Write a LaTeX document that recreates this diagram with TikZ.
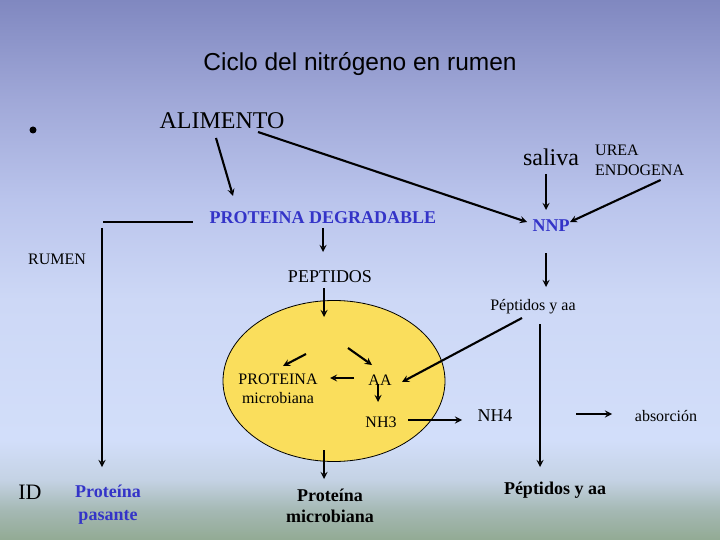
\documentclass[tikz,border=0pt]{standalone}
\usepackage{fontspec}
\setmainfont{Liberation Serif}
\newfontfamily\titlefont{Liberation Sans}
\usepackage{xcolor}
\usetikzlibrary{shapes.geometric, arrows, calc}
\definecolor{bluetext}{RGB}{52,52,200}
\definecolor{cellfill}{RGB}{250,222,92}
\pgfdeclareverticalshading{slidebg}{100bp}{rgb(0bp)=(0.573,0.667,0.580); rgb(25bp)=(0.573,0.667,0.580); rgb(27.78bp)=(0.647,0.725,0.706); rgb(30.56bp)=(0.769,0.824,0.894); rgb(34.26bp)=(0.824,0.871,0.980); rgb(47.2bp)=(0.804,0.847,0.965); rgb(56.5bp)=(0.729,0.769,0.925); rgb(65.75bp)=(0.627,0.659,0.847); rgb(75bp)=(0.502,0.533,0.753); rgb(100bp)=(0.502,0.533,0.753)}
\tikzstyle{heading} = [font=\titlefont\fontsize{24.5}{29}\selectfont, inner sep=0pt]
\tikzstyle{big} = [font=\fontsize{24}{28}\selectfont, inner sep=0pt]
\tikzstyle{small} = [font=\fontsize{16}{19}\selectfont, inner sep=0pt, align=center]
\tikzstyle{note} = [font=\fontsize{16}{20}\selectfont, inner sep=0pt, align=left]
\tikzstyle{mid} = [font=\fontsize{18}{21}\selectfont, inner sep=0pt, align=center]
\tikzstyle{bluebold} = [font=\bfseries\fontsize{18}{23}\selectfont, text=bluetext, inner sep=0pt, align=center]
\tikzstyle{blackbold} = [font=\bfseries\fontsize{18}{21}\selectfont, inner sep=0pt, align=center]
\tikzstyle{cell} = [ellipse, draw=black, line width=0.8pt, fill=cellfill, minimum width=222pt, minimum height=161pt, inner sep=0pt]
\tikzstyle{dot} = [circle, fill=black, inner sep=0pt, minimum size=7pt]
\tikzstyle{arrow} = [line width=2.1pt,->,>=stealth]
\tikzstyle{line} = [line width=2.1pt,-]

\begin{document}
\begin{tikzpicture}[x=1pt, y=-1pt]

% Slide background
\useasboundingbox (0,0) rectangle (720,540);
\shade[shading=slidebg] (0,0) rectangle (720,540);

% Title and top row
\node (title) [heading] at (360,64) {Ciclo del nitrógeno en rumen};
\node (bullet) [dot] at (33,130) {};
\node (alimento) [big] at (222,121) {ALIMENTO};
\node (saliva) [big] at (551,157) {saliva};
\node (urea) [note, anchor=west] at (595,160) {UREA\\ENDOGENA};

% Rumen inputs
\node (protdeg) [bluebold] at (323,218) {PROTEINA DEGRADABLE};
\node (nnp) [bluebold] at (551,226) {NNP};
\node (rumen) [small] at (57,259) {RUMEN};
\node (peptidos) [mid] at (330,277) {PEPTIDOS};
\node (peptaa) [small] at (533,307) {Péptidos y aa};

% Microbial cell
\node (cell) [cell] at (334,381) {};
\node (protmic) [small] at (278,389) {PROTEINA\\microbiana};
\node (aa) [small] at (380,380) {AA};
\node (nh3) [small] at (381,422) {NH3};
\node (nh4) [mid] at (495,416) {NH4};
\node (absorcion) [small] at (666,416) {absorción};

% Bottom row
\node (id) [font=\fontsize{22}{26}\selectfont, inner sep=0pt] at (30,492) {ID};
\node (pasante) [bluebold] at (108,505) {Proteína\\pasante};
\node (protmic2) [blackbold] at (330,506) {Proteína\\microbiana};
\node (peptaa2) [blackbold] at (555,490) {Péptidos y aa};

\coordinate (rumcorner) at (103,222);
\coordinate (rumtop) at (102,228);

% Arrows - feed and saliva
\draw [arrow] ($(alimento)+(-6,17)$) -- ($(protdeg)+(-90,-22)$);
\draw [arrow] ($(alimento)+(36,11)$) -- ($(nnp)+(-24,-4)$);
\draw [arrow] ($(saliva)+(-5,17)$) -- ($(nnp)+(-5,-16)$);
\draw [arrow] ($(urea)+(21,20)$) -- ($(nnp)+(19,-4)$);

% Bypass protein
\draw [line] (rumcorner) -- ($(protdeg)+(-130,4)$);
\draw [arrow] (rumtop) -- ($(pasante)+(-6,-38)$);

% Arrows - into the cell
\draw [arrow] ($(protdeg)+(0,10)$) -- ($(peptidos)+(-7,-25)$);
\draw [arrow] ($(nnp)+(-5,27)$) -- ($(peptaa)+(13,-20)$);
\draw [arrow] ($(peptidos)+(-6,11)$) -- ($(cell)+(-10,-64)$);
\draw [arrow] ($(cell)+(-28,-27)$) -- ($(protmic)+(5,-23)$);
\draw [arrow] ($(cell)+(14,-33)$) -- ($(aa)+(-8,-15)$);
\draw [arrow] ($(aa)+(-26,-2)$) -- ($(protmic)+(52,-11)$);
\draw [arrow] ($(aa)+(-2,4)$) -- ($(nh3)+(-3,-20)$);
\draw [arrow] ($(nh3)+(27,-2)$) -- ($(nh4)+(-33,4)$);
\draw [arrow] ($(peptaa)+(-11,11)$) -- ($(aa)+(22,2)$);

% Arrows - out of the rumen
\draw [arrow] ($(peptaa)+(7,17)$) -- ($(peptaa2)+(-15,-23)$);
\draw [arrow] ($(nh4)+(81,-2)$) -- ($(absorcion)+(-54,-2)$);
\draw [arrow] ($(cell)+(-10,69)$) -- ($(protmic2)+(-6,-27)$);

\end{tikzpicture}
\end{document}
